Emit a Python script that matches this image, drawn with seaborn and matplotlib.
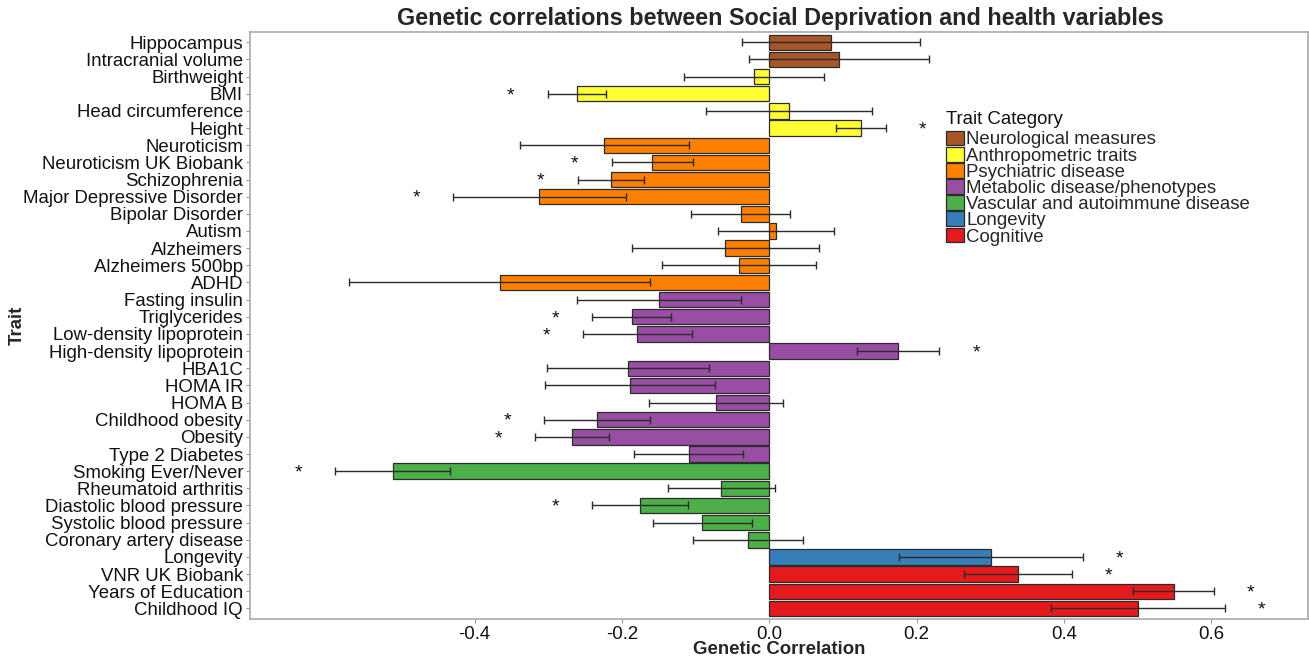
import matplotlib
matplotlib.use("Agg")
import matplotlib.pyplot as plt
import seaborn as sns
import pandas as pd
from matplotlib.patches import Patch

traits = ["Hippocampus", "Intracranial volume", "Birthweight", "BMI", "Head circumference",
          "Height", "Neuroticism", "Neuroticism UK Biobank", "Schizophrenia",
          "Major Depressive Disorder", "Bipolar Disorder", "Autism", "Alzheimers",
          "Alzheimers 500bp", "ADHD", "Fasting insulin", "Triglycerides",
          "Low-density lipoprotein", "High-density lipoprotein", "HBA1C", "HOMA IR",
          "HOMA B", "Childhood obesity", "Obesity", "Type 2 Diabetes",
          "Smoking Ever/Never", "Rheumatoid arthritis", "Diastolic blood pressure",
          "Systolic blood pressure", "Coronary artery disease", "Longevity",
          "VNR UK Biobank", "Years of Education", "Childhood IQ"]

categories = (["Neurological measures"] * 2 + ["Anthropometric traits"] * 4 +
              ["Psychiatric disease"] * 9 + ["Metabolic disease/phenotypes"] * 10 +
              ["Vascular and autoimmune disease"] * 5 + ["Longevity"] +
              ["Cognitive"] * 3)

rg = [0.084, 0.095, -0.021, -0.261, 0.027, 0.124, -0.224, -0.159, -0.215, -0.312,
      -0.039, 0.009, -0.060, -0.041, -0.366, -0.150, -0.187, -0.179, 0.175, -0.192,
      -0.189, -0.072, -0.234, -0.268, -0.109, -0.511, -0.065, -0.175, -0.091, -0.029,
      0.301, 0.338, 0.549, 0.501]

ci_half = [0.121, 0.122, 0.095, 0.040, 0.113, 0.034, 0.115, 0.055, 0.045, 0.117,
           0.067, 0.079, 0.127, 0.105, 0.204, 0.111, 0.053, 0.074, 0.056, 0.110,
           0.115, 0.091, 0.072, 0.050, 0.074, 0.078, 0.073, 0.065, 0.067, 0.075,
           0.125, 0.073, 0.055, 0.118]

significant = [False, False, False, True, False, True, False, True, True, True,
               False, False, False, False, False, False, True, True, True, False,
               False, False, True, True, False, True, False, True, False, False,
               True, True, True, True]

category_order = ["Neurological measures", "Anthropometric traits", "Psychiatric disease",
                  "Metabolic disease/phenotypes", "Vascular and autoimmune disease",
                  "Longevity", "Cognitive"]
category_colors = ["#A65628", "#FFFF33", "#FF7F00", "#984EA3", "#4DAF4A", "#377EB8", "#E41A1C"]
palette = dict(zip(category_order, category_colors))

df = pd.DataFrame({"Trait": traits, "Category": categories, "rg": rg,
                   "ci": ci_half, "sig": significant})

sns.set_theme(style="white")
plt.rcParams["font.family"] = ["Liberation Sans", "DejaVu Sans"]

fig = plt.figure(figsize=(13.09, 6.59), dpi=100)
ax = fig.add_axes([250 / 1309, 1 - 618.7 / 659, 1 - 250 / 1309 - 0.0005, (618.7 - 32) / 659])

sns.barplot(data=df, x="rg", y="Trait", hue="Category", order=traits,
            hue_order=category_order, palette=palette, dodge=False, width=0.9,
            edgecolor="#2b2b2b", linewidth=0.9, saturation=1, legend=False, ax=ax,
            errorbar=None)

ypos = list(range(len(traits)))
ax.errorbar(df["rg"], ypos, xerr=df["ci"], fmt="none", ecolor="#2b2b2b",
            elinewidth=1.0, capsize=3, capthick=1.0, zorder=5)

for i, row in df.iterrows():
    if row["sig"]:
        if row["rg"] < 0:
            xs = row["rg"] - row["ci"] - 0.05
        else:
            xs = row["rg"] + row["ci"] + 0.05
        ax.text(xs, i + 0.1, "*", ha="center", va="center", fontsize=14,
                color="#111111")

ax.set_xlim(-0.705, 0.732)
ax.set_ylim(len(traits) - 1 + 0.6, -0.6)
ax.set_xticks([-0.4, -0.2, 0.0, 0.2, 0.4, 0.6])
ax.set_xticklabels(["-0.4", "-0.2", "0.0", "0.2", "0.4", "0.6"])

for s in ax.spines.values():
    s.set_color("#aaaaaa")
    s.set_linewidth(1.2)

ax.tick_params(axis="both", which="both", length=3, color="#999999", width=0.8,
               labelsize=13.4, labelcolor="#111111", pad=2, left=True, bottom=True)

ax.set_xlabel("")
ax.set_ylabel("")
fig.text(779.5 / 1309, 1 - 649 / 659, "Genetic Correlation", ha="center", va="center",
         fontsize=13.4, fontweight="bold")
fig.text(17 / 1309, 1 - 325 / 659, "Trait", ha="center", va="center", rotation=90,
         fontsize=13.4, fontweight="bold")

fig.text(780 / 1309, 1 - 19 / 659, "Genetic correlations between Social Deprivation and health variables",
         ha="center", va="center", fontsize=16.8, fontweight="bold")

fig.text(946 / 1309, 1 - 120 / 659, "Trait Category", ha="left", va="center",
         fontsize=13.4, color="#111111")
handles = [Patch(facecolor=c, edgecolor="#2b2b2b", linewidth=0.9) for c in category_colors]
leg = ax.legend(handles, category_order, loc="upper left",
                bbox_to_anchor=(946 / 1309, 1 - 130.5 / 659), bbox_transform=fig.transFigure,
                frameon=False, fontsize=13.4, handlelength=0.95,
                handleheight=0.85, labelspacing=-0.09, handletextpad=0.15, borderpad=0,
                borderaxespad=0)

fig.savefig("out.png", dpi=100)
